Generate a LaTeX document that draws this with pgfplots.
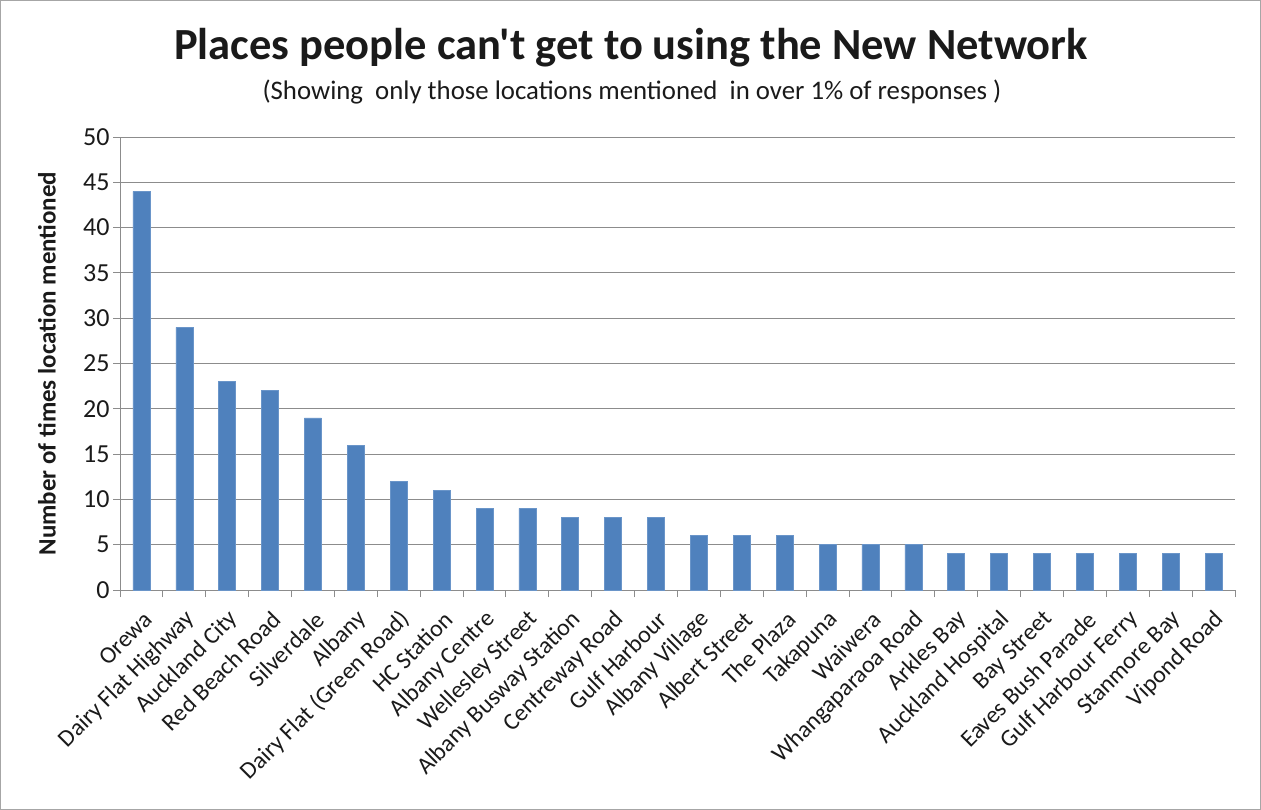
\documentclass[border=0pt]{standalone}
\usepackage{pgfplots}
\pgfplotsset{compat=1.18}
\usepackage{fontspec}
\setmainfont{Carlito}
\newfontfamily\titlefont{Carlito}[Ligatures=TeXOff]
\definecolor{barblue}{HTML}{4F81BD}
\definecolor{baredge}{HTML}{6A95C9}
\definecolor{gridgray}{HTML}{8C8C8C}
\definecolor{framegray}{HTML}{A6A6A6}
\definecolor{txt}{HTML}{1A1A1A}
\begin{document}
\begin{tikzpicture}[x=1bp,y=1bp]
\draw[framegray, line width=1.2bp] (0.6,-0.6) rectangle (1260.4,-809.4);
\node[txt, font=\titlefont\fontsize{44.5bp}{50bp}\selectfont\bfseries] at (631,-48) {Places people can't get to using the New Network};
\node[txt, font=\fontsize{26.8bp}{30bp}\selectfont] at (632,-92) {(Showing\ \ only those locations mentioned\ \ in over 1\% of responses\ )};
\begin{axis}[
  at={(120bp,-590bp)}, anchor=south west,
  scale only axis, width=1115bp, height=453bp,
  ybar, bar width=17bp,
  xmin=-0.5, xmax=25.5, ymin=0, ymax=50,
  axis lines=left,
  axis line style={-, gridgray, line width=1bp},
  ytick={0,5,...,50},
  ymajorgrids, grid style={gridgray, line width=0.9bp},
  xtick={0,...,25},
  xticklabels={Orewa,Dairy Flat Highway,Auckland City,Red Beach Road,Silverdale,Albany,Dairy Flat (Green Road),HC Station,Albany Centre,Wellesley Street,Albany Busway Station,Centreway Road,Gulf Harbour,Albany Village,Albert Street,The Plaza,Takapuna,Waiwera,Whangaparaoa Road,Arkles Bay,Auckland Hospital,Bay Street,Eaves Bush Parade,Gulf Harbour Ferry,Stanmore Bay,Vipond Road},
  minor xtick={-0.5,0.5,...,25.5},
  major x tick style={draw=none},
  minor x tick style={gridgray, line width=1bp},
  major y tick style={gridgray, line width=1bp},
  tick align=outside,
  major tick length=7bp, minor tick length=7bp,
  xticklabel style={rotate=45, anchor=east, font=\fontsize{24bp}{28bp}\selectfont, text=txt, xshift=-5bp, yshift=-18bp},
  yticklabel style={font=\fontsize{26bp}{30bp}\selectfont, text=txt},
  /pgf/number format/assume math mode=true,
  ylabel={Number of times location mentioned},
  ylabel style={at={(axis description cs:-0.0655,0.5)}, anchor=center, font=\fontsize{25bp}{28bp}\selectfont\bfseries, text=txt},
  clip=false,
]
\addplot[fill=barblue, draw=baredge, line width=0.6bp] coordinates {
(0,44) (1,29) (2,23) (3,22) (4,19) (5,16) (6,12) (7,11) (8,9) (9,9) (10,8) (11,8) (12,8)
(13,6) (14,6) (15,6) (16,5) (17,5) (18,5) (19,4) (20,4) (21,4) (22,4) (23,4) (24,4) (25,4)};
\end{axis}
\end{tikzpicture}
\end{document}
